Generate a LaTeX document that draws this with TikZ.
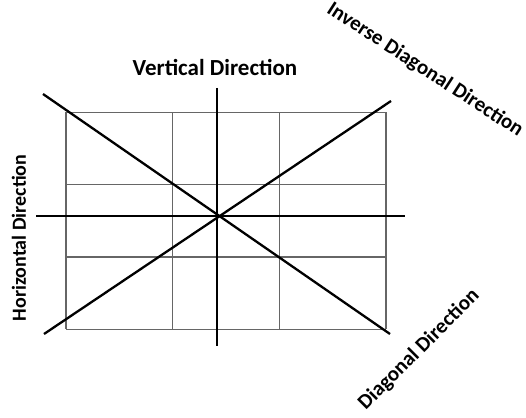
\documentclass[tikz,border=0pt]{standalone}
\usepackage{fontspec}
\setmainfont{Carlito}

\tikzset{
    gridline/.style={gray!80!black, line width=1.1pt},
    axisline/.style={black, line width=2.3pt},
    dirlabel/.style={font=\fontsize{21}{24}\selectfont\bfseries, inner sep=0pt}
}

\begin{document}
\begin{tikzpicture}[x=1pt, y=-1pt]
    \useasboundingbox (0,0) rectangle (526,417);

    % grid of cells
    \foreach \i in {0,1,2,3}
        \draw[gridline] ({66+106.67*\i},112.3) -- ({66+106.67*\i},329.3);
    \foreach \j in {0,1,2,3}
        \draw[gridline] (66,{112.3+72.33*\j}) -- (386,{112.3+72.33*\j});

    % the four directions through the centre
    \coordinate (o) at (217.3,216);
    \draw[axisline] (217.3,88) -- (217.3,346);
    \draw[axisline] (36,216) -- (405,216);
    \draw[axisline] (43,94) -- (390,334);
    \draw[axisline] (44,334) -- (391,101);

    \node[dirlabel, font=\fontsize{23}{26}\selectfont\bfseries] (vert) at (215,67) {Vertical Direction};
    \node[dirlabel, font=\fontsize{20}{24}\selectfont\bfseries, rotate=90] (horz) at (19,238) {Horizontal Direction};
    \node[dirlabel, rotate=-33] (invdiag) at (425,70) {Inverse Diagonal Direction};
    \node[dirlabel, rotate=45] (diag) at (419,350) {Diagonal Direction};
\end{tikzpicture}
\end{document}
